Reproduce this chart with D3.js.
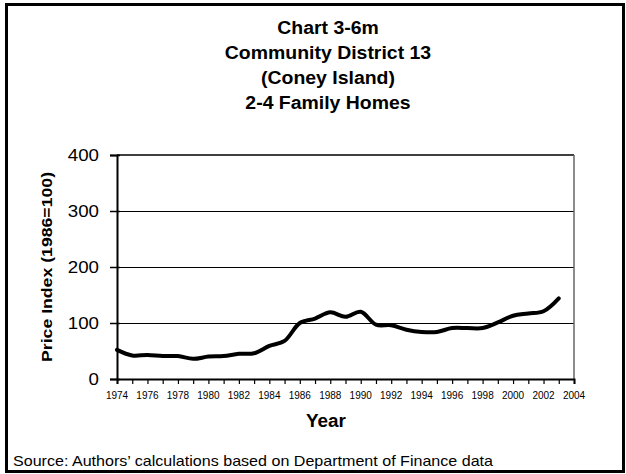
<!DOCTYPE html>
<html>
<head>
<meta charset="utf-8">
<script src="https://cdn.jsdelivr.net/npm/d3@7"></script>
<style>
  html, body { margin: 0; padding: 0; background: #fff; }
  svg { display: block; font-family: "Liberation Sans", Arial, sans-serif; }
</style>
</head>
<body>
<svg id="chart" width="626" height="474"></svg>
<script>
const titleLines = ["Chart 3-6m", "Community District 13", "(Coney Island)", "2-4 Family Homes"];
const years = [1974,1975,1976,1977,1978,1979,1980,1981,1982,1983,1984,1985,1986,1987,1988,1989,1990,1991,1992,1993,1994,1995,1996,1997,1998,1999,2000,2001,2002,2003];
const priceIndex = [52,42,43,41,41,36,40,41,45,46,59,68,100,108,119,111,120,97,96,88,84,84,91,91,91,101,113,117,121,144];
const yTicks = [0,100,200,300,400];
const xTickYears = [1974,1976,1978,1980,1982,1984,1986,1988,1990,1992,1994,1996,1998,2000,2002,2004];
const xLabel = "Year";
const yLabel = "Price Index (1986=100)";
const sourceText = "Source: Authors\u2019 calculations based on Department of Finance data";

const svg = d3.select("#chart");
const x = d3.scaleLinear().domain([1974, 2004]).range([117, 574]);
const y = d3.scaleLinear().domain([0, 400]).range([379, 155]);

// stretch text horizontally by a factor
function stretch(sel, f) {
  sel.each(function() {
    const len = this.getComputedTextLength();
    d3.select(this).attr("textLength", len * f).attr("lengthAdjust", "spacingAndGlyphs");
  });
}

// outer frame
svg.append("rect").attr("x", 6.5).attr("y", 4.5).attr("width", 617).attr("height", 467)
  .attr("fill", "#fff").attr("stroke", "#000").attr("stroke-width", 3);

// title
svg.append("g").selectAll("text").data(titleLines).join("text")
  .attr("x", 328).attr("y", (d, i) => 34 + i * 25)
  .attr("text-anchor", "middle").attr("font-size", 18).attr("font-weight", "bold")
  .text(d => d).call(stretch, 1.08);

// gridlines
svg.append("g").selectAll("line").data(yTicks.filter(d => d > 0 && d < 400)).join("line")
  .attr("x1", x(1974)).attr("x2", x(2004))
  .attr("y1", d => Math.round(y(d)) + 0.5).attr("y2", d => Math.round(y(d)) + 0.5)
  .attr("stroke", "#000").attr("stroke-width", 1);

// plot top and right border
svg.append("line").attr("x1", x(1974)).attr("x2", x(2004)).attr("y1", y(400)).attr("y2", y(400))
  .attr("stroke", "#000").attr("stroke-width", 1.5);
svg.append("line").attr("x1", x(2004)).attr("x2", x(2004)).attr("y1", y(400)).attr("y2", y(0))
  .attr("stroke", "#666").attr("stroke-width", 1.5);

// y axis
const yAxis = d3.axisLeft(y).tickValues(yTicks).tickSize(7).tickFormat(d3.format("d"));
const yg = svg.append("g").attr("transform", `translate(${x(1974)},0)`).call(yAxis);
yg.select(".domain").attr("stroke", "#000").attr("stroke-width", 2);
yg.selectAll(".tick line").attr("stroke", "#000").attr("stroke-width", 1.5).attr("x1", 3);
yg.selectAll(".tick text").attr("font-size", 17).attr("font-family", "Liberation Sans, Arial, sans-serif")
  .attr("x", -18).attr("fill", "#000").call(stretch, 1.1);

// x axis
const xAxis = d3.axisBottom(x).tickValues(years.concat([2004])).tickSize(5).tickFormat("");
const xg = svg.append("g").attr("transform", `translate(0,${y(0)})`).call(xAxis);
xg.select(".domain").attr("stroke", "#000").attr("stroke-width", 2);
xg.selectAll(".tick line").attr("stroke", "#000").attr("stroke-width", 1.2);
svg.append("g").selectAll("text").data(xTickYears).join("text")
  .attr("x", d => x(d)).attr("y", 399)
  .attr("text-anchor", "middle").attr("font-size", 10)
  .text(d => d).call(stretch, 1.0);

// line
const line = d3.line().x((d, i) => x(years[i])).y(d => y(d)).curve(d3.curveCatmullRom.alpha(0.5));
svg.append("path").datum(priceIndex).attr("d", line)
  .attr("fill", "none").attr("stroke", "#000").attr("stroke-width", 4).attr("stroke-linejoin", "round").attr("stroke-linecap", "round");

// axis titles
svg.append("text").attr("x", 326).attr("y", 427).attr("text-anchor", "middle")
  .attr("font-size", 18).attr("font-weight", "bold").text(xLabel).call(stretch, 1.05);
svg.append("text").attr("transform", "translate(52,267) rotate(-90)").attr("text-anchor", "middle")
  .attr("font-size", 15).attr("font-weight", "bold").text(yLabel)
  .attr("textLength", 190).attr("lengthAdjust", "spacingAndGlyphs");

// source
svg.append("text").attr("x", 13).attr("y", 466).attr("font-size", 15).text(sourceText)
  .attr("textLength", 480).attr("lengthAdjust", "spacingAndGlyphs");
</script>
</body>
</html>
